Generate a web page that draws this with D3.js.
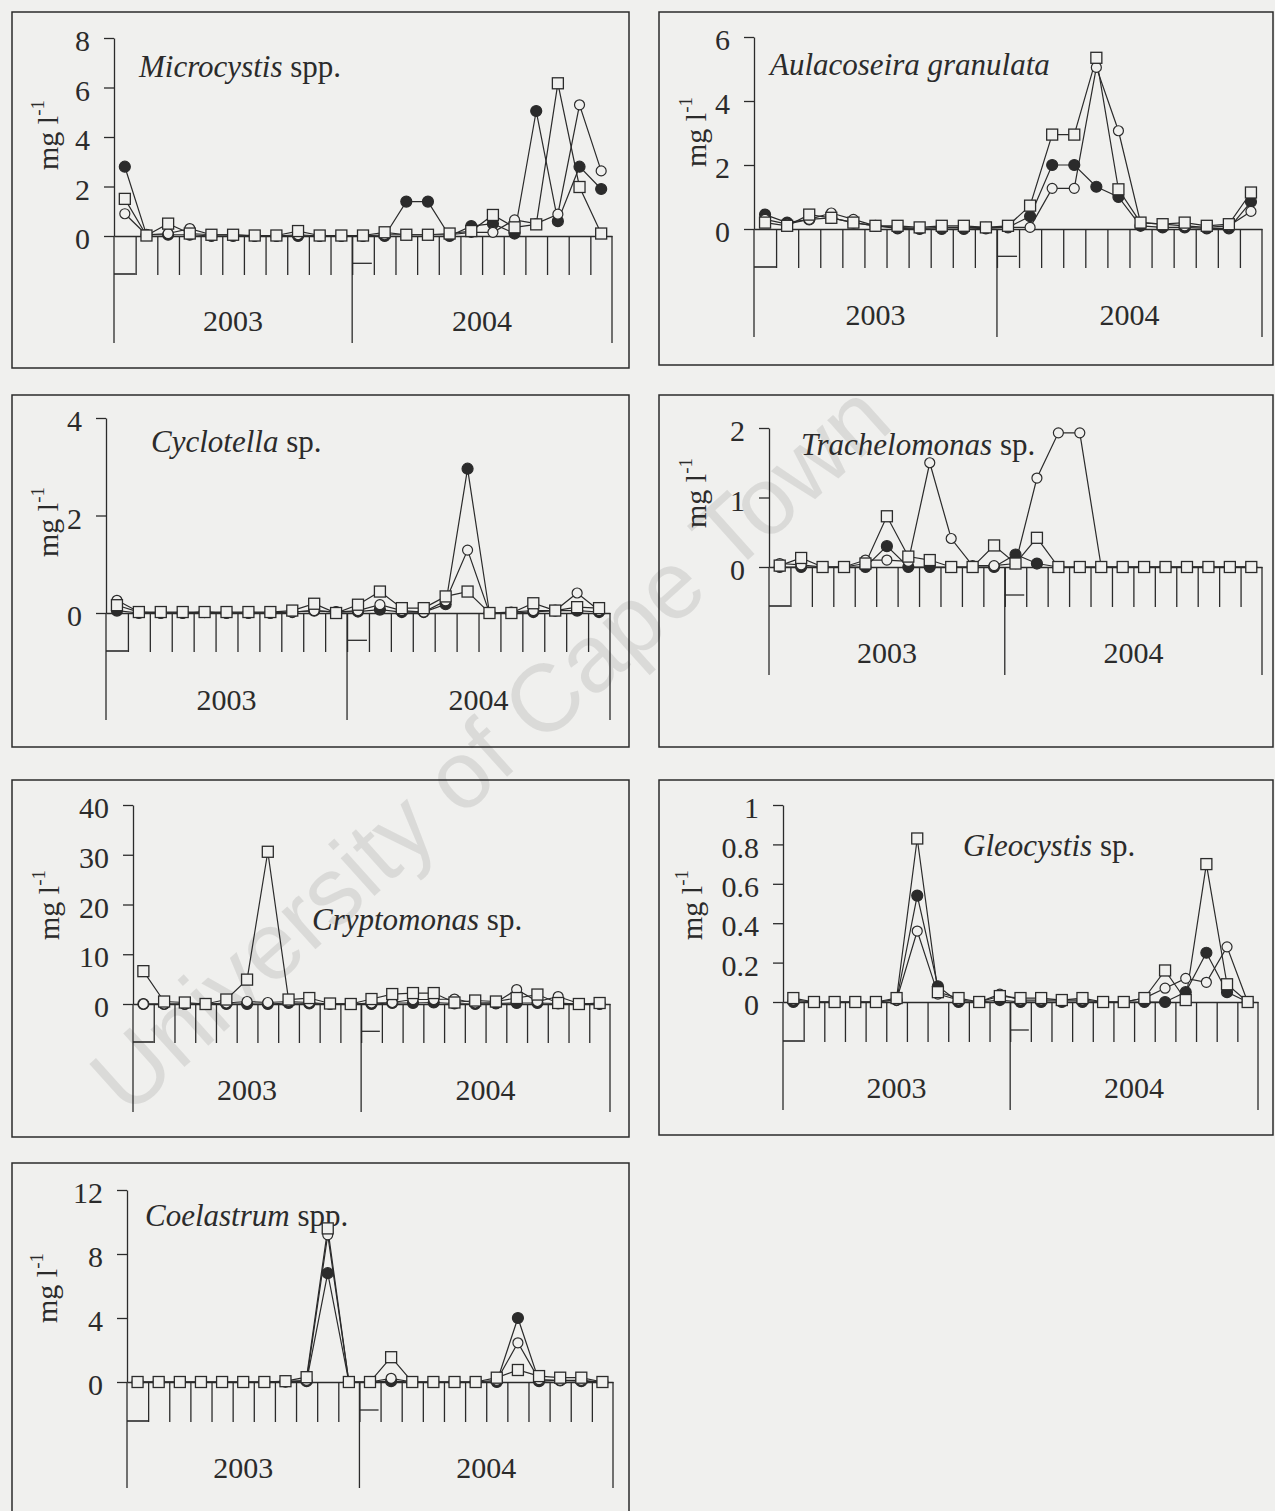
<!DOCTYPE html>
<html>
<head>
<meta charset="utf-8">
<script src="https://cdn.jsdelivr.net/npm/d3@7"></script>
<style>
  html, body { margin: 0; padding: 0; background: #f0f0ee; }
  svg { display: block; }
</style>
</head>
<body>
<svg id="fig" width="1275" height="1511"></svg>
<script>
// ---- sampling occasions (11 in 2003, 12 in 2004) ----
const samples = ["03-01","03-02","03-03","03-04","03-05","03-06","03-07","03-08","03-09","03-10","03-11",
                 "04-01","04-02","04-03","04-04","04-05","04-06","04-07","04-08","04-09","04-10","04-11","04-12"];
const sampleYear = ["2003","2003","2003","2003","2003","2003","2003","2003","2003","2003","2003",
                    "2004","2004","2004","2004","2004","2004","2004","2004","2004","2004","2004","2004"];
const years = ["2003", "2004"];

// ---- biomass (mg l-1): filled circle, open circle, open square stations ----
const microcystisFilled = [2.8,0.05,0.05,0.05,0,0,0,0,0,0,0,0,0,1.39,1.39,0,0.4,0.5,0.1,5.05,0.6,2.8,1.9];
const microcystisOpen   = [0.9,0.05,0.1,0.3,0.05,0.05,0,0,0.05,0,0,0,0.05,0.05,0.05,0.05,0.15,0.15,0.65,0.5,0.88,5.3,2.63];
const microcystisSquare = [1.5,0.02,0.5,0.1,0.05,0.05,0.02,0.02,0.2,0.02,0.02,0.02,0.15,0.05,0.05,0.1,0.2,0.85,0.35,0.47,6.17,1.98,0.1];

const aulacoseiraFilled = [0.45,0.2,0.3,0.35,0.2,0.1,0.02,0,0,0,0.02,0.05,0.4,2.0,2.0,1.32,1.0,0.1,0.05,0.05,0.02,0.02,0.85];
const aulacoseiraOpen   = [0.3,0.15,0.3,0.5,0.3,0.1,0.05,0.02,0.05,0.05,0.05,0.05,0.05,1.27,1.27,5.05,3.07,0.2,0.15,0.1,0.05,0.1,0.55];
const aulacoseiraSquare = [0.2,0.1,0.45,0.35,0.2,0.1,0.1,0.05,0.1,0.1,0.05,0.1,0.73,2.95,2.95,5.35,1.24,0.2,0.15,0.2,0.1,0.15,1.14];

const cyclotellaFilled = [0.05,0,0,0,0.02,0,0,0,0.02,0.05,0.02,0.03,0.07,0.02,0.02,0.18,2.96,0,0,0.02,0.05,0.05,0.02];
const cyclotellaOpen   = [0.26,0.02,0,0,0.02,0,0,0,0.02,0.05,0.02,0.05,0.17,0.05,0.02,0.25,1.29,0,0.02,0.05,0.05,0.41,0.05];
const cyclotellaSquare = [0.16,0.02,0.02,0.02,0.02,0.02,0.02,0.02,0.05,0.19,0,0.17,0.44,0.1,0.1,0.34,0.44,0,0,0.2,0.05,0.12,0.1];

const trachelomonasFilled = [0,0,0,0,0,0.3,0,0,0,0,0,0.18,0.05,0,0,0,0,0,0,0,0,0,0];
const trachelomonasOpen   = [0.05,0.03,0,0,0.1,0.1,0.08,1.5,0.41,0.02,0.02,0.05,1.28,1.93,1.93,0,0,0,0,0,0,0,0];
const trachelomonasSquare = [0.02,0.13,0,0,0.05,0.73,0.15,0.1,0,0,0.31,0.05,0.42,0,0,0,0,0,0,0,0,0,0];

const cryptomonasFilled = [0,0,0,0,0,0,0,0.2,0.1,0,0,0,0.2,0.2,0.3,0.1,0,0.1,0.2,0.2,0.1,0,0];
const cryptomonasOpen   = [0,0,0,0,0.2,0.5,0.3,0.5,0.3,0,0,0.2,0.3,0.9,0.9,1.0,0.2,0.3,2.9,0.5,1.5,0.1,0];
const cryptomonasSquare = [6.6,0.5,0.3,0,0.9,4.9,30.6,0.9,1.2,0.1,0,1.0,2.0,2.2,2.2,0.3,0.7,0.5,1.2,1.9,0.2,0,0.2];

const gleocystisFilled = [0,0,0,0,0,0.01,0.54,0.08,0,0,0.01,0,0,0,0,0,0,0,0,0.05,0.25,0.05,0];
const gleocystisOpen   = [0.01,0,0,0,0,0.01,0.36,0.04,0.01,0,0.04,0.01,0.01,0.01,0.01,0,0,0.02,0.07,0.12,0.1,0.28,0];
const gleocystisSquare = [0.02,0,0,0,0,0.02,0.83,0.05,0.02,0,0.03,0.02,0.02,0.01,0.02,0,0,0.02,0.16,0.01,0.7,0.09,0];

const coelastrumFilled = [0,0,0,0,0,0,0,0.02,0.05,6.8,0,0,0.05,0,0,0,0,0,4.0,0.05,0.1,0.05,0];
const coelastrumOpen   = [0,0,0,0,0,0,0,0.02,0.1,9.2,0,0,0.23,0,0,0,0,0.1,2.45,0.15,0.1,0.1,0];
const coelastrumSquare = [0,0,0,0,0,0,0,0.05,0.3,9.6,0,0,1.55,0,0,0,0,0.27,0.75,0.37,0.27,0.27,0];

// ---- y-axis ticks per taxon ----
const microcystisTicks = [0,2,4,6,8];
const aulacoseiraTicks = [0,2,4,6];
const cyclotellaTicks = [0,2,4];
const trachelomonasTicks = [0,1,2];
const cryptomonasTicks = [0,10,20,30,40];
const gleocystisTicks = [0,0.2,0.4,0.6,0.8,1];
const coelastrumTicks = [0,4,8,12];

// ---- panel layout ----
const panels = [
  { genus: "Microcystis", suffix: " spp.", filled: microcystisFilled, open: microcystisOpen, square: microcystisSquare,
    ticks: microcystisTicks, box: [12,12,629,368], x0: 114, x1: 612, y0: 236, yTop: 38, tickBottom: 275, axisBottom: 343,
    yearY: 331, titleX: 139, titleY: 77, labX: 58, labY: 135 },
  { genus: "Aulacoseira granulata", suffix: "", filled: aulacoseiraFilled, open: aulacoseiraOpen, square: aulacoseiraSquare,
    ticks: aulacoseiraTicks, box: [659,12,1273,365], x0: 754, x1: 1262, y0: 229, yTop: 37, tickBottom: 268, axisBottom: 337,
    yearY: 325, titleX: 770, titleY: 75, labX: 706, labY: 132 },
  { genus: "Cyclotella", suffix: " sp.", filled: cyclotellaFilled, open: cyclotellaOpen, square: cyclotellaSquare,
    ticks: cyclotellaTicks, box: [12,395,629,747], x0: 106, x1: 610, y0: 613, yTop: 418, tickBottom: 652, axisBottom: 720,
    yearY: 710, titleX: 151, titleY: 452, labX: 58, labY: 522 },
  { genus: "Trachelomonas", suffix: " sp.", filled: trachelomonasFilled, open: trachelomonasOpen, square: trachelomonasSquare,
    ticks: trachelomonasTicks, box: [659,395,1273,747], x0: 769, x1: 1262, y0: 567, yTop: 428, tickBottom: 607, axisBottom: 675,
    yearY: 663, titleX: 801, titleY: 455, labX: 706, labY: 493 },
  { genus: "Cryptomonas", suffix: " sp.", filled: cryptomonasFilled, open: cryptomonasOpen, square: cryptomonasSquare,
    ticks: cryptomonasTicks, box: [12,780,629,1137], x0: 133, x1: 610, y0: 1004, yTop: 805, tickBottom: 1043, axisBottom: 1112,
    yearY: 1100, titleX: 312, titleY: 930, labX: 59, labY: 905 },
  { genus: "Gleocystis", suffix: " sp.", filled: gleocystisFilled, open: gleocystisOpen, square: gleocystisSquare,
    ticks: gleocystisTicks, box: [659,780,1273,1135], x0: 783, x1: 1258, y0: 1002, yTop: 805, tickBottom: 1042, axisBottom: 1110,
    yearY: 1098, titleX: 963, titleY: 856, labX: 702, labY: 905 },
  { genus: "Coelastrum", suffix: " spp.", filled: coelastrumFilled, open: coelastrumOpen, square: coelastrumSquare,
    ticks: coelastrumTicks, box: [12,1163,629,1540], x0: 127, x1: 613, y0: 1382, yTop: 1190, tickBottom: 1422, axisBottom: 1488,
    yearY: 1478, titleX: 145, titleY: 1226, labX: 57, labY: 1288 }
];

const SERIF = "'Liberation Serif', 'Times New Roman', Times, serif";
const INK = "#2b2b2b";
const PAPER = "#f0f0ee";

const svg = d3.select("#fig");
svg.append("rect").attr("width", 1275).attr("height", 1511).attr("fill", PAPER);

// faint diagonal watermark lying underneath the figure
svg.append("text")
  .attr("transform", "translate(128,1118) rotate(-42)")
  .attr("font-family", "'Liberation Sans', Arial, sans-serif")
  .attr("font-size", 96)
  .attr("fill", "#000")
  .attr("fill-opacity", 0.09)
  .text("University of Cape Town");

function drawPanel(p) {
  const g = svg.append("g");
  const yMax = d3.max(p.ticks);

  g.append("rect")
    .attr("x", p.box[0]).attr("y", p.box[1])
    .attr("width", p.box[2] - p.box[0]).attr("height", p.box[3] - p.box[1])
    .attr("fill", "none").attr("stroke", INK).attr("stroke-width", 1.5);

  const x = d3.scaleBand().domain(samples).range([p.x0, p.x1]);
  const xEdge = d3.scaleLinear().domain([0, samples.length]).range([p.x0, p.x1]);
  const y = d3.scaleLinear().domain([0, yMax]).range([p.y0, p.yTop]);
  const cx = (d, i) => x(samples[i]) + x.bandwidth() / 2;

  // y axis
  const ya = g.append("g")
    .attr("transform", `translate(${p.x0},0)`)
    .call(d3.axisLeft(y).tickValues(p.ticks).tickSize(10).tickSizeOuter(0).tickPadding(14)
      .tickFormat(d3.format("~g")));
  ya.selectAll("path, line").attr("stroke", INK).attr("stroke-width", 1.3);
  ya.selectAll("text").attr("font-family", SERIF).attr("font-size", 30).attr("fill", INK).attr("dy", "0.42em");

  // x axis: tick at every sample boundary
  const xa = g.append("g")
    .attr("transform", `translate(0,${p.y0})`)
    .call(d3.axisBottom(xEdge).tickValues(d3.range(1, samples.length))
      .tickSize(p.tickBottom - p.y0).tickSizeOuter(0).tickFormat(""));
  xa.selectAll("path, line").attr("stroke", INK).attr("stroke-width", 1.3);

  // long dividers: start, year boundary, end
  const split = sampleYear.indexOf(years[1]);
  g.selectAll("line.div").data([0, split, samples.length]).join("line")
    .attr("x1", d => xEdge(d)).attr("x2", d => xEdge(d))
    .attr("y1", p.y0).attr("y2", p.axisBottom)
    .attr("stroke", INK).attr("stroke-width", 1.3);

  // small bracket marks at the first sample of each year
  g.append("line")
    .attr("x1", xEdge(0)).attr("x2", xEdge(1))
    .attr("y1", p.tickBottom - 1).attr("y2", p.tickBottom - 1)
    .attr("stroke", INK).attr("stroke-width", 1.6);
  const midY = p.y0 + 0.7 * (p.tickBottom - p.y0);
  g.append("line")
    .attr("x1", xEdge(split)).attr("x2", xEdge(split + 1) - 2)
    .attr("y1", midY).attr("y2", midY)
    .attr("stroke", INK).attr("stroke-width", 1.3);

  // year labels centred under their samples
  g.selectAll("text.year").data(years).join("text")
    .attr("x", yr => {
      const idx = d3.range(samples.length).filter(i => sampleYear[i] === yr);
      return (xEdge(idx[0]) + xEdge(idx[idx.length - 1] + 1)) / 2;
    })
    .attr("y", p.yearY)
    .attr("text-anchor", "middle")
    .attr("font-family", SERIF).attr("font-size", 30).attr("fill", INK)
    .text(yr => yr);

  // taxon name
  const t = g.append("text")
    .attr("x", p.titleX).attr("y", p.titleY)
    .attr("font-family", SERIF).attr("font-size", 31).attr("fill", INK);
  t.append("tspan").attr("font-style", "italic").text(p.genus);
  if (p.suffix) t.append("tspan").text(p.suffix);

  // unit label
  const lab = g.append("text")
    .attr("transform", `translate(${p.labX},${p.labY}) rotate(-90)`)
    .attr("text-anchor", "middle")
    .attr("font-family", SERIF).attr("font-size", 30).attr("fill", INK);
  lab.append("tspan").text("mg l");
  lab.append("tspan").attr("font-size", 19).attr("dy", "-0.75em").text("-1");

  // series: filled circles, open circles, open squares
  const line = d3.line().x(cx).y(d => y(d));
  const series = [
    { values: p.filled, kind: "filled" },
    { values: p.open, kind: "open" },
    { values: p.square, kind: "square" }
  ];
  series.forEach(s => {
    g.append("path").datum(s.values)
      .attr("d", line).attr("fill", "none")
      .attr("stroke", INK).attr("stroke-width", 1.2);
  });
  series.forEach(s => {
    const m = g.append("g");
    if (s.kind === "square") {
      m.selectAll("rect").data(s.values).join("rect")
        .attr("x", (d, i) => cx(d, i) - 5.5).attr("y", d => y(d) - 5.5)
        .attr("width", 11).attr("height", 11)
        .attr("fill", PAPER).attr("stroke", INK).attr("stroke-width", 1.3);
    } else {
      m.selectAll("circle").data(s.values).join("circle")
        .attr("cx", cx).attr("cy", d => y(d))
        .attr("r", s.kind === "filled" ? 5.5 : 5)
        .attr("fill", s.kind === "filled" ? INK : PAPER)
        .attr("stroke", INK).attr("stroke-width", 1.2);
    }
  });
}

panels.forEach(drawPanel);
</script>
</body>
</html>
